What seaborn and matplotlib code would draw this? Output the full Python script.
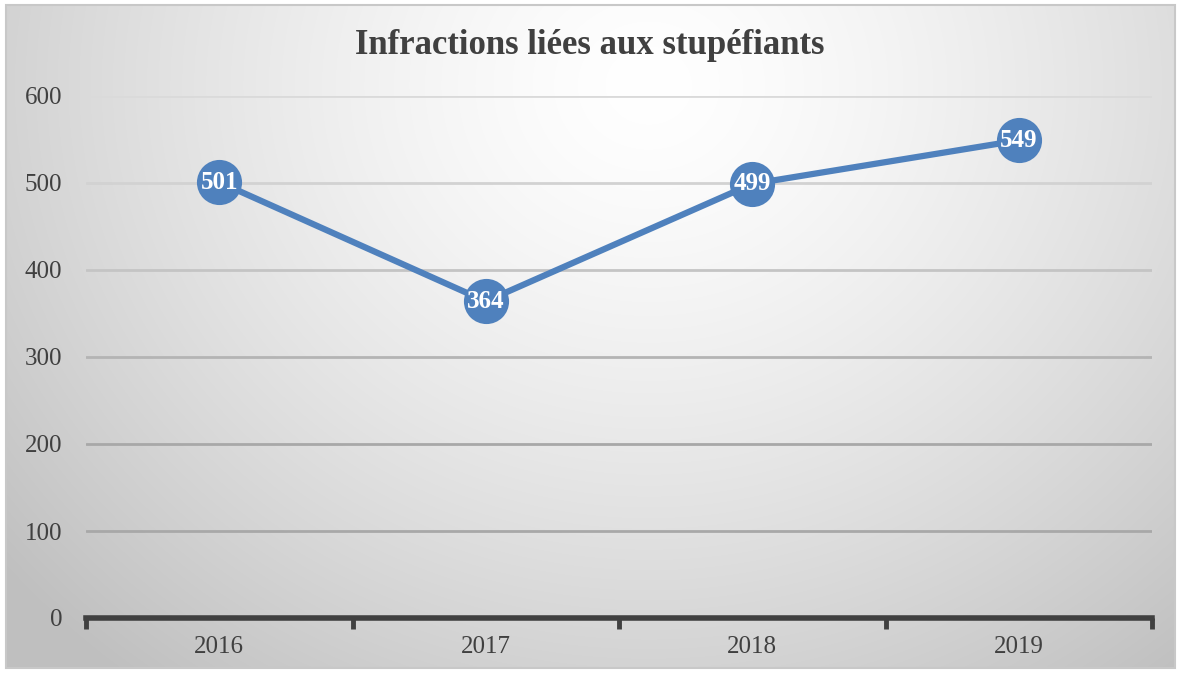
import numpy as np
import pandas as pd
import matplotlib
matplotlib.use("Agg")
import matplotlib.pyplot as plt
import seaborn as sns
from matplotlib.patches import Rectangle

years = ["2016", "2017", "2018", "2019"]
values = [501, 364, 499, 549]
yticks = [0, 100, 200, 300, 400, 500, 600]
title = "Infractions liées aux stupéfiants"

sns.set_theme(style="white")
plt.rcParams['font.family'] = ['Liberation Serif', 'DejaVu Serif']

W, H = 1180, 674
fig = plt.figure(figsize=(W / 100, H / 100), dpi=100)
fig.patch.set_facecolor("white")

# radial gradient background inside border
bx0, by0, bx1, by1 = 6, 5, 1175, 668
bg = fig.add_axes([bx0 / W, 1 - by1 / H, (bx1 - bx0) / W, (by1 - by0) / H], zorder=-10)
xx, yy = np.meshgrid(np.linspace(0, 1, 400), np.linspace(0, 1, 240))
cx, cy = 0.55, 0.12
d = np.sqrt(((xx - cx) / 0.72) ** 2 + ((yy - cy) / 1.15) ** 2)
d = np.clip(d, 0, 1)
g = 1.0 - 0.25 * d ** 1.4
bg.imshow(np.dstack([g, g, g]), aspect="auto", extent=[0, 1, 1, 0], interpolation="bilinear")
bg.set_xlim(0, 1); bg.set_ylim(1, 0)
bg.axis("off")
fig.patches.append(Rectangle((bx0 / W, 1 - by1 / H), (bx1 - bx0) / W, (by1 - by0) / H,
                             transform=fig.transFigure, fill=False, edgecolor="#c8c8c8", lw=1.5, zorder=5))

ax = fig.add_axes([86 / W, 1 - 618 / H, (1152 - 86) / W, (618 - 96) / H])
ax.set_facecolor("none")

df = pd.DataFrame({"year": years, "value": values})
df["pos"] = np.arange(len(years))
sns.lineplot(data=df, x="pos", y="value", ax=ax, color="#4F81BD", lw=4.5,
             marker="o", markersize=32.5, markeredgewidth=0, zorder=3, clip_on=False)
for p, v in zip(df["pos"], df["value"]):
    ax.text(p, v, str(v), ha="center", va="center", color="white",
            fontsize=18, fontweight="bold", zorder=4)

ax.set_xlim(-0.5, len(years) - 0.5)
ax.set_ylim(0, 600)
ax.set_yticks(yticks)
ax.set_yticklabels([str(t) for t in yticks], fontsize=18, color="#404040")
ax.set_xticks(np.arange(len(years)))
ax.set_xticklabels(years, fontsize=18, color="#404040")
ax.set_xticks(np.arange(-0.5, len(years)), minor=True)
ax.tick_params(axis="x", which="major", length=0, pad=13, bottom=True)
ax.tick_params(axis="x", which="minor", length=8, width=3.5, color="#404040",
               direction="out", bottom=True)
ax.tick_params(axis="y", length=0, pad=17)
ax.grid(axis="y", lw=2, zorder=0)
ax.grid(axis="x", visible=False)
grid_colors = ["#404040", "#a8a8a8", "#a8a8a8", "#b4b4b4", "#c4c4c4", "#d2d2d2", "#dadada"]
for gl, c in zip(ax.get_ygridlines(), grid_colors):
    gl.set_color(c)
for s in ["top", "right", "left"]:
    ax.spines[s].set_visible(False)
ax.spines["bottom"].set_color("#404040")
ax.spines["bottom"].set_linewidth(4)
ax.set_xlabel(""); ax.set_ylabel("")

fig.text(0.5, 1 - 46 / H, title, ha="center", va="center", fontsize=25,
         fontweight="bold", color="#404040")

fig.savefig("out.png", dpi=100)
